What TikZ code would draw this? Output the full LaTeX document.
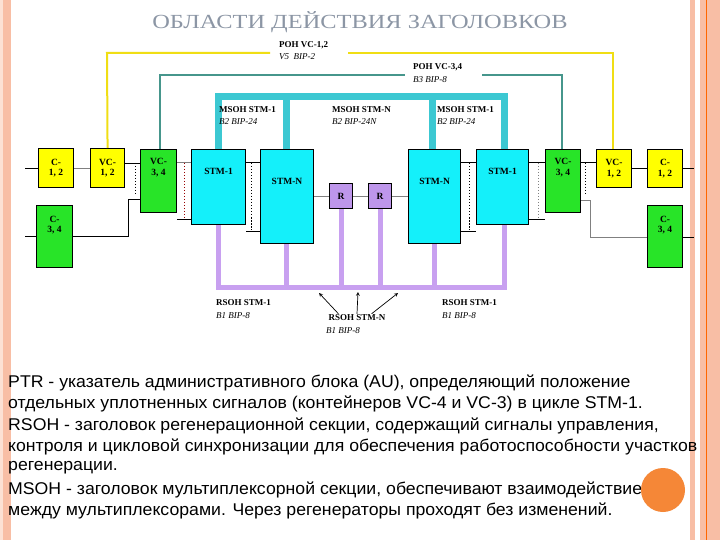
\documentclass[tikz,border=0pt]{standalone}
\usepackage{fontspec}
\setmainfont{Liberation Serif}
\newfontfamily\arialf{Liberation Sans}
\definecolor{cbox}{RGB}{20,240,250}
\definecolor{gbox}{RGB}{40,228,40}
\definecolor{ybox}{RGB}{255,255,0}
\definecolor{rbox}{RGB}{190,150,235}
\definecolor{msoh}{RGB}{60,200,210}
\definecolor{poht}{RGB}{70,150,140}
\definecolor{pohy}{RGB}{240,222,20}
\definecolor{rsoh}{RGB}{200,160,240}
\definecolor{salmon}{RGB}{248,190,165}
\definecolor{salmonl}{RGB}{252,225,212}
\definecolor{titlec}{RGB}{140,150,165}
\definecolor{circ}{RGB}{245,135,55}
\begin{document}
\begin{tikzpicture}[x=1pt,y=-1pt,
  box/.style={draw=black,line width=1.1pt,minimum width=#1,inner sep=0pt,font=\bfseries\fontsize{9.5}{10.5}\selectfont,align=center},
  lbl/.style={anchor=west,align=left,inner sep=0pt},
  lb/.style={lbl,font=\bfseries\fontsize{9}{10}\selectfont},
  li/.style={lbl,font=\itshape\fontsize{9}{10}\selectfont},
  thin/.style={draw=black,line width=0.6pt},
  gthin/.style={draw=gray,line width=0.6pt},
  dots/.style={draw=black,line width=0.8pt,dash pattern=on 1.5pt off 1.5pt},
  rdots/.style={draw=red!60!black,line width=0.8pt,dash pattern=on 1.5pt off 1.5pt},
  txt/.style={anchor=west,inner sep=0pt,font=\arialf\fontsize{17}{17}\selectfont,xscale=1.04}]
\useasboundingbox (0,0) rectangle (720,540);
\fill[white] (0,0) rectangle (720,540);
\fill[salmonl] (0,0) rectangle (3,540);
\fill[salmon] (3,0) rectangle (11,540);
\fill[salmon] (690,0) rectangle (695,540);
\fill[salmon] (700,0) rectangle (720,540);
\draw[orange!80!red,line width=0.6pt] (706,0) -- (706,540);
\node[font=\fontsize{20}{20}\selectfont,text=titlec,xscale=1.22] (title) at (360,22) {ОБЛАСТИ ДЕЙСТВИЯ ЗАГОЛОВКОВ};
% boxes
\node[box=35pt,minimum height=39pt,fill=ybox,anchor=north west] (c12l) at (38,148) {C-\\1, 2};
\node[box=34pt,minimum height=39pt,fill=ybox,anchor=north west] (vc12l) at (90,148) {VC-\\1, 2};
\node[box=36pt,minimum height=63pt,fill=gbox,anchor=north west] (vc34l) at (140,149) {VC-\\3, 4\\[18pt]};
\node[box=36pt,minimum height=62pt,fill=gbox,anchor=north west] (c34l) at (36,205) {C-\\3, 4\\[14pt]};
\node[box=54pt,minimum height=75pt,fill=cbox,anchor=north west] (stm1l) at (191,149) {STM-1\\[20pt]};
\node[box=53pt,minimum height=94pt,fill=cbox,anchor=north west] (stmnl) at (260,149) {STM-N\\[20pt]};
\node[box=23pt,minimum height=25pt,fill=rbox,anchor=north west] (rl) at (329,183) {R};
\node[box=23pt,minimum height=25pt,fill=rbox,anchor=north west] (rr) at (368,183) {R};
\node[box=52pt,minimum height=94pt,fill=cbox,anchor=north west] (stmnr) at (408,149) {STM-N\\[20pt]};
\node[box=52pt,minimum height=75pt,fill=cbox,anchor=north west] (stm1r) at (476,149) {STM-1\\[20pt]};
\node[box=35pt,minimum height=63pt,fill=gbox,anchor=north west] (vc34r) at (545,149) {VC-\\3, 4\\[18pt]};
\node[box=35pt,minimum height=38pt,fill=ybox,anchor=north west] (vc12r) at (596,149) {VC-\\1, 2};
\node[box=35pt,minimum height=38pt,fill=ybox,anchor=north west] (c12r) at (647,149) {C-\\1, 2};
\node[box=35pt,minimum height=62pt,fill=gbox,anchor=north west] (c34r) at (647,205) {C-\\3, 4\\[14pt]};
% coordinates for free ends
\coordinate (inl1) at (25,168); \coordinate (inl2) at (25,236);
\coordinate (outr1) at (694,168); \coordinate (outr2) at (694,237);
% thin connectors left
\draw[thin] (inl1) -- (c12l.west|-inl1);
\draw[gthin] (c12l.east|-inl1) -- (vc12l.west|-inl1);
\draw[thin] (inl2) -- (c34l.west|-inl2);
\draw[thin] (vc12l.east|-0,163) -- (vc34l.west|-0,163);
\draw[dots] (135,163) -- (135,195);
\draw[thin] (c34l.east|-inl2) -- (128,236) -- (128,199) -- (vc34l.west|-0,199);
\draw[gthin] (vc34l.east|-0,162) -- (stm1l.west|-0,162);
\draw[rdots] (184,163) -- (184,218);
\draw[thin] (vc34l.east|-0,219) -- (stm1l.west|-0,219);
\draw[thin] (stm1l.east|-0,162) -- (stmnl.west|-0,162);
\draw[dots] (251,163) -- (251,230);
\draw[thin] (stm1l.east|-0,231) -- (stmnl.west|-0,231);
\draw[gthin] (stmnl.east|-rl) -- (rl.west);
\draw[gthin] (rl) -- (rr);
\draw[gthin] (rr.east) -- (stmnr.west|-rr);
% right
\draw[thin] (stmnr.east|-0,162) -- (stm1r.west|-0,162);
\draw[dots] (469,163) -- (469,230);
\draw[thin] (stmnr.east|-0,231) -- (stm1r.west|-0,231);
\draw[thin] (stm1r.east|-0,162) -- (vc34r.west|-0,162);
\draw[gthin,dash pattern=on 1.5pt off 1.5pt] (538,163) -- (538,218);
\draw[thin] (stm1r.east|-0,219) -- (vc34r.west|-0,219);
\draw[thin] (vc34r.east|-0,162) -- (vc12r.west|-0,162);
\draw[dots] (585,163) -- (585,195);
\draw[gthin] (vc34r.east|-0,200) -- (590,200) -- (590,237) -- (c34r.west|-outr2);
\draw[thin] (vc12r.east|-0,168) -- (c12r.west|-0,168);
\draw[thin] (c12r.east|-outr1) -- (outr1);
\draw[thin] (c34r.east|-outr2) -- (outr2);
% POH VC-1,2 yellow
\draw[pohy,line width=2pt] (vc12l.north) -- (107,53) -- (270,53);
\draw[pohy,line width=2pt] (348,53) -- (613,53) -- (vc12r.north-|613,0);
\node[lb] (pohl1) at (279,45) {POH VC-1,2};
\node[li] (pohl2) at (279,57) {V5\ \ BIP-2};
% POH VC-3,4 teal
\draw[poht,line width=2.5pt] (vc34l.north-|160,0) -- (160,75) -- (405,75);
\draw[poht,line width=2.5pt] (482,75) -- (562,75) -- (vc34r.north-|562,0);
\node[lb] (pohr1) at (413,67) {POH VC-3,4};
\node[li] (pohr2) at (413,80) {B3 BIP-8};
% MSOH cyan thick
\draw[msoh,line width=7pt] (stm1l.north-|218,0) -- (218,97) -- (504,97) -- (stm1r.north-|504,0);
\draw[msoh,line width=7pt] (stmnl.north-|286,0) -- (286,97);
\draw[msoh,line width=7pt] (stmnr.north-|432,0) -- (432,97);
\node[lb] (m1) at (219,110) {MSOH STM-1};
\node[li] (m1b) at (219,122) {B2 BIP-24};
\node[lb] (m2) at (332,110) {MSOH STM-N};
\node[li] (m2b) at (332,122) {B2 BIP-24N};
\node[lb] (m3) at (437,110) {MSOH STM-1};
\node[li] (m3b) at (437,122) {B2 BIP-24};
% RSOH purple
\draw[rsoh,line width=5pt] (stm1l.south-|218,0) -- (218,287) -- (504,287) -- (stm1r.south-|504,0);
\draw[rsoh,line width=5pt] (stmnl.south-|286,0) -- (286,287);
\draw[rsoh,line width=5pt] (rl.south) -- (rl.south|-0,287);
\draw[rsoh,line width=5pt] (rr.south) -- (rr.south|-0,287);
\draw[rsoh,line width=5pt] (stmnr.south-|434,0) -- (434,287);
\node[lb] (r1) at (216,303) {RSOH STM-1};
\node[li] (r1b) at (216,316) {B1 BIP-8};
\node[font=\bfseries\fontsize{9}{10}\selectfont,inner sep=0pt] (r2) at (357,318) {RSOH STM-N};
\node[li] (r2b) at (326,331) {B1 BIP-8};
\node[lb] (r3) at (442,303) {RSOH STM-1};
\node[li] (r3b) at (442,316) {B1 BIP-8};
\coordinate (a1) at (319,293); \coordinate (a2) at (358,292); \coordinate (a3) at (398,293);
\draw[-stealth,line width=0.7pt] (r2.north west) ++(10,-1) -- (a1);
\draw[-stealth,line width=0.7pt] (r2.north) ++(0,-1) -- (a2);
\draw[-stealth,line width=0.7pt] (r2.north east) ++(-14,-1) -- (a3);
% text
\node[txt] (t1) at (8,383) {PTR - указатель административного блока (AU), определяющий положение};
\node[txt] (t2) at (8,404) {отдельных уплотненных сигналов (контейнеров VC-4 и VC-3) в цикле STM-1.};
\node[txt] (t3) at (8,426) {RSOH - заголовок регенерационной секции, содержащий сигналы управления,};
\node[txt] (t4) at (8,447) {контроля и цикловой синхронизации для обеспечения работоспособности участков};
\node[txt] (t5) at (8,468) {регенерации.};
\node[txt] (t6) at (8,490) {MSOH - заголовок мультиплексорной секции, обеспечивают взаимодействие};
\node[txt] (t7) at (8,511) {между мультиплексорами. Через регенераторы проходят без изменений.};
\fill[circ] (663,490) circle (22);
\end{tikzpicture}
\end{document}
